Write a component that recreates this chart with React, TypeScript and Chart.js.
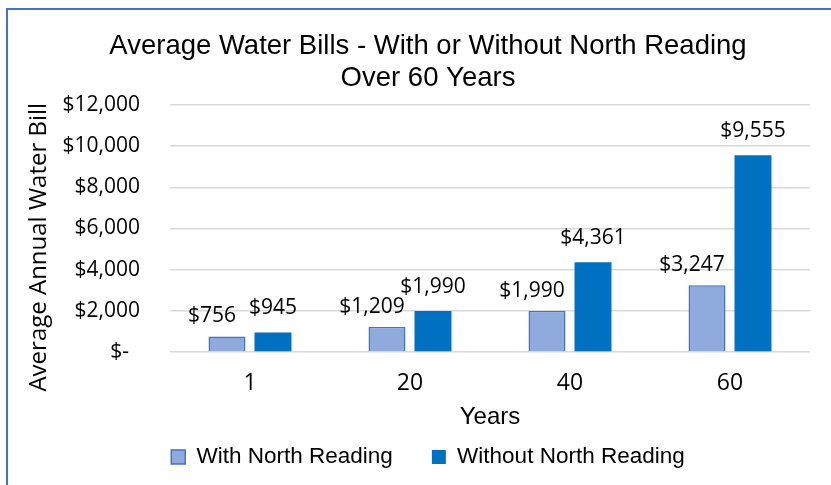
import React, { useEffect, useRef } from 'react';
import { Chart, registerables } from 'chart.js';

Chart.register(...registerables);

const titleLines = ['Average Water Bills - With or Without North Reading', 'Over 60 Years'];
const categories = ['1', '20', '40', '60'];
const seriesNames = ['With North Reading', 'Without North Reading'];
const withNorthReading = [756, 1209, 1990, 3247];
const withoutNorthReading = [945, 1990, 4361, 9555];
const yTickValues = [0, 2000, 4000, 6000, 8000, 10000, 12000];
const yTickLabels = ['$-  ', '$2,000', '$4,000', '$6,000', '$8,000', '$10,000', '$12,000'];
const xAxisTitle = 'Years';
const yAxisTitle = 'Average Annual Water Bill      ';

const formatMoney = (v: number) => '$' + v.toLocaleString('en-US');

const barLabels = {
  id: 'barLabels',
  afterDatasetsDraw(chart: any, _args: any, opts: any) {
    const { ctx } = chart;
    ctx.save();
    ctx.font = opts.font;
    ctx.fillStyle = opts.color;
    ctx.textAlign = 'center';
    ctx.textBaseline = 'alphabetic';
    chart.data.datasets.forEach((ds: any, di: number) => {
      const meta = chart.getDatasetMeta(di);
      const off = (opts.offsets && opts.offsets[di]) || { dx: 0, dy: 0 };
      meta.data.forEach((el: any, i: number) => {
        ctx.fillText(formatMoney(ds.data[i]), el.x + off.dx, el.y - off.dy);
      });
    });
    ctx.restore();
  },
};

export default function App() {
  const ref = useRef<HTMLCanvasElement | null>(null);

  useEffect(() => {
    if (!ref.current) return;
    const chart = new Chart(ref.current, {
      type: 'bar',
      data: {
        labels: categories,
        datasets: [
          {
            label: seriesNames[0],
            data: withNorthReading,
            backgroundColor: '#8FAADC',
            borderColor: '#4472C4',
            borderWidth: 1.5,
            categoryPercentage: 0.575,
            barPercentage: 0.804,
          },
          {
            label: seriesNames[1],
            data: withoutNorthReading,
            backgroundColor: '#0070C0',
            borderColor: '#0070C0',
            borderWidth: 0,
            categoryPercentage: 0.575,
            barPercentage: 0.804,
          },
        ],
      },
      options: {
        animation: false,
        responsive: false,
        layout: { padding: { left: 46, right: 21, top: 0, bottom: 6.75 } },
        plugins: {
          title: {
            display: true,
            text: titleLines,
            color: '#000',
            font: { family: '"Liberation Sans", Arial, sans-serif', size: 27.5, weight: 'normal', lineHeight: 32 / 27.5 },
            padding: { top: 30.5, bottom: 10.5 },
          },
          legend: {
            position: 'bottom',
            labels: {
              color: '#000',
              font: { family: '"Liberation Sans", Arial, sans-serif', size: 22.5 },
              boxWidth: 14,
              boxHeight: 14,
              padding: 39,
            },
          },
          tooltip: { enabled: false },
          barLabels: {
            font: '21px "Open Sans", sans-serif',
            color: '#000',
            offsets: [
              { dx: -15, dy: 14 },
              { dx: 0, dy: 18.5 },
            ],
          },
        } as any,
        scales: {
          x: {
            grid: { display: false, drawTicks: false },
            border: { display: false },
            ticks: { color: '#000', font: { family: '"Open Sans", sans-serif', size: 23 }, padding: 17.2 },
            title: {
              display: true,
              text: xAxisTitle,
              color: '#000',
              font: { family: '"Liberation Sans", Arial, sans-serif', size: 24 },
              padding: { top: -10.9, bottom: -25.15 },
            },
          },
          y: {
            min: 0,
            max: 12000,
            grid: { color: '#D9D9D9', lineWidth: 1.5, drawTicks: false },
            border: { display: false },
            ticks: {
              stepSize: 2000,
              padding: 30,
              color: '#000',
              font: { family: '"Open Sans", sans-serif', size: 21 },
              callback: (v: any) => {
                const idx = yTickValues.indexOf(Number(v));
                return idx >= 0 ? yTickLabels[idx] : '';
              },
            },
            title: {
              display: true,
              text: yAxisTitle,
              color: '#000',
              font: { family: '"Open Sans", sans-serif', size: 24 },
              padding: { top: -21.4, bottom: -20.9 },
            },
          },
        },
      },
      plugins: [barLabels],
    });
    return () => chart.destroy();
  }, []);

  return (
    <div style={{ position: 'absolute', left: 0, top: 0, width: 831, height: 485, overflow: 'hidden', background: '#fff' }}>
      <canvas ref={ref} width={831} height={485} style={{ position: 'absolute', left: 0, top: 0 }} />
      <div
        style={{
          position: 'absolute',
          left: 6,
          top: 8,
          width: 900,
          height: 600,
          borderLeft: '2px solid #4472C4',
          borderTop: '2px solid #4472C4',
          pointerEvents: 'none',
        }}
      />
    </div>
  );
}
